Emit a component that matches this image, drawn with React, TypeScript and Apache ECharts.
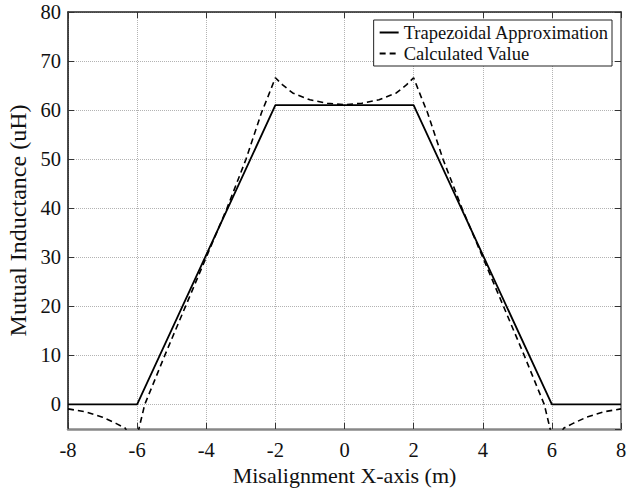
import React, { useEffect, useRef } from "react";
import * as echarts from "echarts";

const xTicks = { min: -8, max: 8, interval: 2 };
const yRange = { min: -5, max: 80 };

const trapezoidName = "Trapezoidal Approximation";
const calculatedName = "Calculated Value";

const trapezoidX = [-8, -6, -2, 2, 6, 8];
const trapezoidY = [0, 0, 61, 61, 0, 0];

const calcXLeft = [
  -8, -7.5, -7, -6.6, -6.35, -6.2, -6.05, -5.95, -5.78, -5.5, -5.2, -4.6, -4.0,
  -3.4, -2.85, -2.4, -2.2, -2.0, -1.8, -1.5, -1.0, -0.5, 0,
];
const calcYLeft = [
  -0.9, -1.5, -2.6, -3.9, -4.8, -6.5, -9, -5, 0, 4.8, 10, 20, 30, 40, 50, 59.5,
  63, 66.6, 65.2, 63.5, 62.1, 61.4, 61.1,
];

const FONT = "Liberation Serif";

export default function App() {
  const ref = useRef<HTMLDivElement>(null);

  useEffect(() => {
    if (!ref.current) return;
    const chart = echarts.init(ref.current, undefined, { renderer: "svg" });

    const trapezoid = trapezoidX.map((x, i) => [x, trapezoidY[i]]);
    const leftHalf = calcXLeft.map((x, i) => [x, calcYLeft[i]]);
    const rightHalf = leftHalf
      .slice(0, -1)
      .reverse()
      .map(([x, y]) => [-x, y]);
    const calculated = [...leftHalf, ...rightHalf];

    const gridLine = { show: true, lineStyle: { color: "#b3b3b3", width: 1, type: [1, 1] as any } };

    chart.setOption({
      animation: false,
      backgroundColor: "#ffffff",
      textStyle: { fontFamily: FONT },
      grid: { left: 68, right: 18, top: 12, bottom: 60, containLabel: false, outerBoundsMode: "none" },
      legend: {
        orient: "vertical",
        right: 27,
        top: 20,
        padding: [3, 3, 3, 5],
        itemGap: 2,
        itemWidth: 19,
        itemHeight: 14,
        borderColor: "#222",
        borderWidth: 1,
        backgroundColor: "#ffffff",
        itemStyle: { opacity: 0 },
        textStyle: { fontFamily: FONT, fontSize: 18.5, color: "#111" },
        data: [trapezoidName, calculatedName],
      },
      xAxis: [
        {
          type: "value",
          min: xTicks.min,
          max: xTicks.max,
          interval: xTicks.interval,
          position: "bottom",
          name: "Misalignment X-axis (m)",
          nameLocation: "middle",
          nameGap: 24,
          nameTextStyle: { fontFamily: FONT, fontSize: 22, color: "#111" },
          axisLine: { show: true, onZero: false, lineStyle: { color: "#888", width: 2.5 } },
          axisTick: { show: true, inside: true, length: 6, lineStyle: { color: "#333", width: 1 } },
          axisLabel: { fontFamily: FONT, fontSize: 20.5, color: "#111", margin: 10 },
          splitLine: gridLine,
        },
        {
          type: "value",
          min: xTicks.min,
          max: xTicks.max,
          interval: xTicks.interval,
          position: "top",
          axisLine: { show: true, onZero: false, lineStyle: { color: "#222", width: 1.5 } },
          axisTick: { show: true, inside: true, length: 6, lineStyle: { color: "#333", width: 1 } },
          axisLabel: { show: false },
          splitLine: { show: false },
        },
      ],
      yAxis: [
        {
          type: "value",
          min: yRange.min,
          max: yRange.max,
          splitNumber: 9,
          minInterval: 10,
          maxInterval: 10,
          position: "left",
          name: "Mutual Inductance (uH)",
          nameLocation: "middle",
          nameGap: 34,
          nameTextStyle: { fontFamily: FONT, fontSize: 24, color: "#111" },
          axisLine: { show: true, onZero: false, lineStyle: { color: "#111", width: 1.5 } },
          axisTick: { show: true, inside: true, length: 6, lineStyle: { color: "#333", width: 1 } },
          axisLabel: {
            fontFamily: FONT,
            fontSize: 20.5,
            color: "#111",
            margin: 7,
            showMinLabel: false,
            formatter: (v: number) => (v === yRange.min ? "" : String(v)),
          },
          splitLine: gridLine,
        },
        {
          type: "value",
          min: yRange.min,
          max: yRange.max,
          splitNumber: 9,
          minInterval: 10,
          maxInterval: 10,
          position: "right",
          axisLine: { show: true, onZero: false, lineStyle: { color: "#888", width: 2 } },
          axisTick: { show: true, inside: true, length: 6, lineStyle: { color: "#333", width: 1 } },
          axisLabel: { show: false },
          splitLine: { show: false },
        },
      ],
      series: [
        {
          name: trapezoidName,
          type: "line",
          xAxisIndex: 0,
          yAxisIndex: 0,
          data: trapezoid,
          symbol: "none",
          lineStyle: { color: "#000", width: 1.8, type: "solid" },
          itemStyle: { color: "#000" },
          clip: true,
        },
        {
          name: calculatedName,
          type: "line",
          xAxisIndex: 0,
          yAxisIndex: 0,
          data: calculated,
          symbol: "none",
          smooth: false,
          lineStyle: { color: "#000", width: 1.6, type: [6, 4] },
          itemStyle: { color: "#000" },
          clip: true,
        },
      ],
    });

    return () => chart.dispose();
  }, []);

  return <div ref={ref} style={{ width: 639, height: 489, position: "absolute", left: 0, top: 0 }} />;
}
